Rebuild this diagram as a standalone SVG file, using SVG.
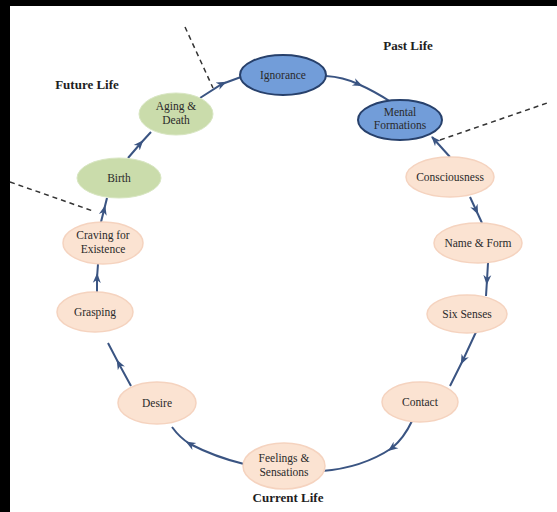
<svg xmlns="http://www.w3.org/2000/svg" width="557" height="512" viewBox="0 0 557 512">
<defs>
<style>
.blue{fill:#729dd9;stroke:#27406b;stroke-width:2}
.green{fill:#cadcab;stroke:#d8e6c2;stroke-width:1}
.peach{fill:#fbe3d2;stroke:#f5d3bf;stroke-width:1.5}
.t{font-family:"Liberation Serif","Times New Roman",serif;font-size:11.5px;fill:#2a2a2a;text-anchor:middle}
.lbl{font-family:"Liberation Serif","Times New Roman",serif;font-size:13px;font-weight:bold;fill:#1e1e1e;text-anchor:middle}
.c{fill:none;stroke:#3a5482;stroke-width:2;marker-mid:url(#ah)}
.ce{fill:none;stroke:#3a5482;stroke-width:2;marker-end:url(#ahe)}
.d{fill:none;stroke:#333;stroke-width:1.5;stroke-dasharray:5 4}
</style>
<marker id="ah" viewBox="0 0 10 10" refX="5" refY="5" markerWidth="10" markerHeight="10" markerUnits="userSpaceOnUse" orient="auto">
<path d="M0,1 L10,5 L0,9 L3,5 z" fill="#3a5482"/>
</marker>
<marker id="ahe" viewBox="0 0 10 10" refX="9" refY="5" markerWidth="10" markerHeight="10" markerUnits="userSpaceOnUse" orient="auto">
<path d="M0,1 L10,5 L0,9 L3,5 z" fill="#3a5482"/>
</marker>
</defs>
<rect x="0" y="0" width="557" height="512" fill="#fff"/>
<rect x="0" y="0" width="557" height="6" fill="#000"/>
<rect x="0" y="0" width="10" height="512" fill="#000"/>

<g id="connectors">
<path class="c" d="M326,76 Q343,77 358,84 Q374,91 391,102"/>
<path class="ce" d="M450,157 L432,137"/>
<path class="c" d="M470,197 L476,210 L482,223"/>
<path class="c" d="M488,263 L487,280 L486,296"/>
<path class="c" d="M476,332 L463,360 L450,386"/>
<path class="c" d="M412,421 Q404,438 392,448 Q362,468 322,471"/>
<path class="c" d="M244,464 Q215,457 190,444 Q180,438 172,427"/>
<path class="c" d="M131,386 L119,364 L108,343"/>
<path class="c" d="M97,292 L97,278 L98,264"/>
<path class="c" d="M101,222 L104,210 L107,198"/>
<path class="c" d="M128,158 L140,144 L151,132"/>
<path class="c" d="M200,98 L222,84 L241,77"/>
<path class="d" d="M185,27 L213,88"/>
<path class="d" d="M440,140 L550,102"/>
<path class="d" d="M10,182 L93,211"/>
</g>

<g id="ignorance"><ellipse class="blue" cx="283" cy="75" rx="43" ry="20"/><text class="t" x="283" y="79">Ignorance</text></g>
<g id="mental-formations"><ellipse class="blue" cx="400" cy="120" rx="42" ry="20"/><text class="t" x="400" y="116">Mental</text><text class="t" x="400" y="129">Formations</text></g>
<g id="consciousness"><ellipse class="peach" cx="450" cy="177" rx="44" ry="20"/><text class="t" x="450" y="181">Consciousness</text></g>
<g id="name-form"><ellipse class="peach" cx="478" cy="243" rx="44" ry="20"/><text class="t" x="478" y="247">Name &amp; Form</text></g>
<g id="six-senses"><ellipse class="peach" cx="467" cy="314" rx="40" ry="19"/><text class="t" x="467" y="318">Six Senses</text></g>
<g id="contact"><ellipse class="peach" cx="420" cy="402" rx="38" ry="20"/><text class="t" x="420" y="406">Contact</text></g>
<g id="feelings"><ellipse class="peach" cx="284" cy="466" rx="41" ry="23"/><text class="t" x="284" y="462">Feelings &amp;</text><text class="t" x="284" y="476">Sensations</text></g>
<g id="desire"><ellipse class="peach" cx="157" cy="403" rx="39" ry="21"/><text class="t" x="157" y="407">Desire</text></g>
<g id="grasping"><ellipse class="peach" cx="95" cy="312" rx="38" ry="20"/><text class="t" x="95" y="316">Grasping</text></g>
<g id="craving"><ellipse class="peach" cx="103" cy="243" rx="40" ry="21"/><text class="t" x="103" y="239">Craving for</text><text class="t" x="103" y="253">Existence</text></g>
<g id="birth"><ellipse class="green" cx="119" cy="178" rx="42" ry="20"/><text class="t" x="119" y="182">Birth</text></g>
<g id="aging-death"><ellipse class="green" cx="176" cy="114" rx="37" ry="21"/><text class="t" x="176" y="110">Aging &amp;</text><text class="t" x="176" y="124">Death</text></g>

<g id="labels">
<text class="lbl" x="408" y="50">Past Life</text>
<text class="lbl" x="87" y="89">Future Life</text>
<text class="lbl" x="288" y="502">Current Life</text>
</g>
</svg>
